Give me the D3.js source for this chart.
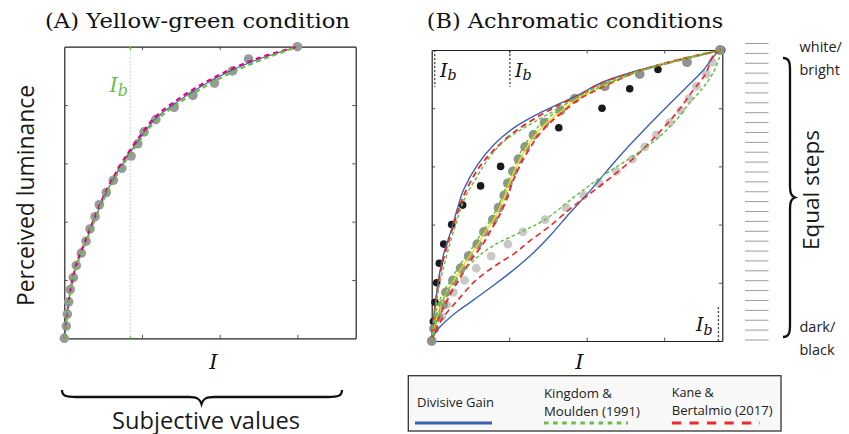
<!DOCTYPE html>
<html>
<head>
<meta charset="utf-8">
<script src="https://cdn.jsdelivr.net/npm/d3@7"></script>
<style>
  body { margin: 0; background: #fff; }
  svg { display: block; }
</style>
</head>
<body>
<svg id="fig" width="849" height="434"></svg>
<script>
// ---------- shared axis settings ----------
const xTicks = [1, 2, 3];
const yTicks = [0.2, 0.4, 0.6, 0.8];

// ---------- (A) yellow-green condition ----------
const steps25 = [0, .042, .083, .125, .167, .208, .25, .292, .333, .375, .417, .458, .5,
                 .542, .583, .625, .667, .708, .75, .792, .833, .875, .917, .958, 1];
const ygIntensity = [0, 0.026, 0.039, 0.057, 0.077, 0.116, 0.155, 0.219, 0.280, 0.331, 0.396, 0.451, 0.540,
                     0.631, 0.740, 0.860, 0.946, 1.027, 1.178, 1.414, 1.655, 1.933, 2.165, 2.371, 3.0];
const fitA_x       = [0, 0.02, 0.04, 0.08, 0.155, 0.28, 0.40, 0.54, 0.73, 0.93, 1.17, 1.45, 1.75, 2.1, 2.5, 3.0];
const fitA_gain    = [0, 0.05, 0.09, 0.165, 0.25, 0.335, 0.415, 0.5, 0.59, 0.67, 0.752, 0.81, 0.862, 0.912, 0.957, 1.0];
const fitA_kane    = [0, 0.052, 0.092, 0.168, 0.254, 0.34, 0.421, 0.506, 0.597, 0.677, 0.759, 0.817, 0.868, 0.917, 0.961, 1.0];
const fitA_kingdom = [0, 0.048, 0.088, 0.162, 0.246, 0.331, 0.411, 0.495, 0.584, 0.663, 0.744, 0.802, 0.854, 0.905, 0.951, 1.0];
const ibA = 0.85;

// ---------- (B) achromatic conditions ----------
const steps16 = [0, .067, .133, .2, .267, .333, .4, .467, .533, .6, .667, .733, .8, .867, .933, 1];
const blackIntensity = [0, 0.021, 0.043, 0.064, 0.098, 0.155, 0.258, 0.40, 0.631, 0.889, 1.202, 1.640,
                        2.198, 2.555, 2.920, 3.74];
const grayIntensity = [0, 0.030, 0.081, 0.146, 0.184, 0.274, 0.374, 0.477, 0.588, 0.674, 0.790, 0.863,
                       0.936, 0.983, 1.048, 1.121, 1.206, 1.314, 1.456, 1.662, 1.847, 2.233, 2.684, 3.294, 3.72];
const lightIntensity = [0, 0.043, 0.129, 0.193, 0.278, 0.425, 0.575, 0.768, 0.983, 1.177, 1.464, 1.735,
                        1.963, 2.160, 2.384, 2.590, 2.749, 2.899, 3.071, 3.213, 3.320, 3.415, 3.544, 3.621, 3.74];

// model fits, black background
const gainHi_x = [0, 0.017, 0.059, 0.103, 0.168, 0.253, 0.326, 0.410, 0.597, 0.812, 1.070, 1.370, 1.670, 1.885, 2.211, 2.642, 3.071, 3.741];
const gainHi_y = [0, 0.062, 0.151, 0.234, 0.313, 0.381, 0.450, 0.519, 0.608, 0.677, 0.734, 0.780, 0.818, 0.845, 0.890, 0.928, 0.958, 1.0];
const kaneHi_x = [0, 0.019, 0.055, 0.101, 0.165, 0.242, 0.332, 0.429, 0.616, 0.829, 1.086, 1.383, 1.666, 1.885, 2.207, 2.645, 3.071, 3.741];
const kaneHi_y = [0, 0.065, 0.141, 0.220, 0.296, 0.364, 0.440, 0.509, 0.598, 0.663, 0.722, 0.773, 0.814, 0.842, 0.888, 0.926, 0.957, 1.0];
const kingHi_x = [0, 0.023, 0.062, 0.107, 0.171, 0.236, 0.313, 0.390, 0.468, 0.554, 0.683, 0.854, 1.026, 1.241, 1.412, 1.602, 1.843, 2.207, 2.645, 3.071, 3.741];
const kingHi_y = [0, 0.065, 0.134, 0.203, 0.271, 0.337, 0.402, 0.467, 0.512, 0.551, 0.608, 0.666, 0.705, 0.740, 0.766, 0.794, 0.832, 0.883, 0.924, 0.955, 1.0];

// model fits, gray background
const midFit_y    = [0, 0.041, 0.082, 0.124, 0.172, 0.210, 0.251, 0.292, 0.333, 0.375, 0.416, 0.457, 0.498,
                     0.540, 0.581, 0.622, 0.663, 0.704, 0.746, 0.787, 0.828, 0.873, 0.924, 0.959, 1.0];
const kingMid_x   = [0, 0.017, 0.043, 0.081, 0.159, 0.249, 0.339, 0.442, 0.558, 0.648, 0.764, 0.841, 0.918,
                     0.970, 1.034, 1.099, 1.176, 1.279, 1.408, 1.602, 1.808, 2.169, 2.645, 3.071, 3.741];
const kaneMid_x   = [0, 0.043, 0.094, 0.171, 0.262, 0.352, 0.442, 0.545, 0.661, 0.751, 0.841, 0.918, 0.983,
                     1.034, 1.099, 1.176, 1.266, 1.369, 1.510, 1.691, 1.885, 2.207, 2.645, 3.071, 3.741];
const yellowMid_x = [0, 0.03, 0.07, 0.12, 0.2, 0.29, 0.385, 0.49, 0.6, 0.69, 0.8, 0.875, 0.945,
                     0.995, 1.06, 1.135, 1.22, 1.325, 1.465, 1.66, 1.86, 2.2, 2.645, 3.071, 3.741];

// model fits, white background
const gainLo_x = [0, 0.030, 0.081, 0.184, 0.339, 0.519, 0.751, 1.009, 1.267, 1.524, 1.782, 2.040, 2.427, 2.852, 3.290, 3.496, 3.690, 3.741];
const gainLo_y = [0, 0.021, 0.041, 0.069, 0.103, 0.137, 0.182, 0.234, 0.292, 0.361, 0.440, 0.515, 0.636, 0.756, 0.873, 0.928, 0.993, 1.0];
const kaneLo_x = [0, 0.055, 0.171, 0.339, 0.558, 0.816, 1.073, 1.267, 1.524, 1.846, 2.207, 2.594, 2.890, 3.148, 3.367, 3.535, 3.638, 3.741];
const kaneLo_y = [0, 0.038, 0.089, 0.141, 0.206, 0.258, 0.302, 0.344, 0.395, 0.467, 0.540, 0.625, 0.704, 0.780, 0.859, 0.918, 0.983, 1.0];
const kingLo_x = [0, 0.039, 0.103, 0.210, 0.382, 0.596, 0.812, 1.155, 1.456, 1.843, 2.211, 2.642, 2.903, 3.110, 3.329, 3.496, 3.625, 3.715, 3.741];
const kingLo_y = [0, 0.038, 0.106, 0.175, 0.232, 0.290, 0.330, 0.375, 0.416, 0.496, 0.568, 0.643, 0.694, 0.746, 0.818, 0.869, 0.918, 0.976, 1.0];

const ibB = [0.04, 1.01];
const ibBcorner = 3.70;

// ---------- ladder of equal steps on the right ----------
const ladderLevels = d3.range(31).map(i => i / 30);

// ---------- legend ----------
const legendLabels = [["Divisive Gain"], ["Kingdom &", "Moulden (1991)"], ["Kane &", "Bertalmio (2017)"]];

// ---------- styles ----------
const C = {
  blue: "#3b62b4", green: "#69be45", red: "#ec2a2c", magenta: "#e4007f", yellow: "#f1e200",
  dotA: "#9a9a9a", black: "#1b1b1b", mid: "#929292", light: "#c9c9c9", frame: "#222"
};
const SANS = "'Open Sans', 'DejaVu Sans', sans-serif";
const SERIF = "'DejaVu Serif', 'Liberation Serif', serif";

const svg = d3.select("#fig");

const xA = d3.scaleLinear([0, 3.75], [64.3, 355.7]);
const yA = d3.scaleLinear([0, 1], [338.3, 46.7]);
const xB = d3.scaleLinear([0, 3.75], [431.7, 722.3]);
const yB = d3.scaleLinear([0, 1], [341, 50]);

function frame(x, y) {
  const g = svg.append("g");
  const [x0, x1] = x.range(), [y0, y1] = y.range();
  const axes = [
    [d3.axisBottom(x).tickValues(xTicks), `translate(0,${y0})`],
    [d3.axisTop(x).tickValues(xTicks), `translate(0,${y1})`],
    [d3.axisLeft(y).tickValues(yTicks), `translate(${x0},0)`],
    [d3.axisRight(y).tickValues(yTicks), `translate(${x1},0)`]
  ];
  axes.forEach(([ax, tr]) => {
    const a = g.append("g").attr("transform", tr)
      .call(ax.tickSize(-3.5).tickSizeOuter(0).tickFormat(""));
    a.select(".domain").attr("stroke", C.frame).attr("stroke-width", 1.2);
    a.selectAll(".tick line").attr("stroke", "#444").attr("stroke-width", 0.9);
  });
  return g;
}

function drawLine(g, x, y, xs, ys, color, width, dash) {
  const line = d3.line().x(d => x(d[0])).y(d => y(d[1])).curve(d3.curveCatmullRom.alpha(0.5));
  g.append("path")
    .attr("d", line(d3.zip(xs, ys)))
    .attr("fill", "none")
    .attr("stroke", color)
    .attr("stroke-width", width)
    .attr("stroke-dasharray", dash || null)
    .attr("stroke-linecap", "butt");
}

function drawDots(g, x, y, xs, ys, color, r) {
  g.selectAll(null).data(d3.zip(xs, ys)).join("circle")
    .attr("cx", d => x(d[0])).attr("cy", d => y(d[1]))
    .attr("r", r).attr("fill", color);
}

function ib(g, x, y, color, size) {
  const t = g.append("text").attr("x", x).attr("y", y)
    .attr("font-family", SERIF).attr("font-style", "italic").attr("fill", color)
    .attr("font-size", size);
  t.append("tspan").text("I");
  t.append("tspan").attr("font-size", size * 0.75).attr("dy", size * 0.2).text("b");
}

// ---------- panel A ----------
frame(xA, yA);
const gA = svg.append("g");
gA.append("line")
  .attr("x1", xA(ibA)).attr("x2", xA(ibA)).attr("y1", yA(1)).attr("y2", yA(0))
  .attr("stroke", "#c4c4c4").attr("stroke-width", 1).attr("stroke-dasharray", "1.5,2");
[[yA(1), yA(1) + 3], [yA(0) - 2, yA(0)]].forEach(([a, b]) =>
  gA.append("line").attr("x1", xA(ibA)).attr("x2", xA(ibA)).attr("y1", a).attr("y2", b)
    .attr("stroke", C.green).attr("stroke-width", 1.5));
drawDots(gA, xA, yA, ygIntensity, steps25, C.dotA, 4.8);
drawLine(gA, xA, yA, fitA_x, fitA_gain, C.blue, 1.1);
drawLine(gA, xA, yA, fitA_x, fitA_kane, C.magenta, 2.2, "5,4");
drawLine(gA, xA, yA, fitA_x, fitA_kingdom, C.green, 2.2, "5,3.5");
ib(gA, 109.5, 91.5, C.green, 21);

// ---------- panel B ----------
frame(xB, yB);
const gB = svg.append("g");
drawDots(gB, xB, yB, lightIntensity, steps25, C.light, 4.4);
drawDots(gB, xB, yB, blackIntensity, steps16, C.black, 3.8);
drawDots(gB, xB, yB, grayIntensity, steps25, C.mid, 4.9);

drawLine(gB, xB, yB, gainHi_x, gainHi_y, C.blue, 1.4);
drawLine(gB, xB, yB, gainLo_x, gainLo_y, C.blue, 1.4);
drawLine(gB, xB, yB, yellowMid_x, midFit_y, C.yellow, 1.3);
drawLine(gB, xB, yB, kaneHi_x, kaneHi_y, C.red, 1.9, "6,4");
drawLine(gB, xB, yB, kaneMid_x, midFit_y, C.red, 1.9, "6,4");
drawLine(gB, xB, yB, kaneLo_x, kaneLo_y, C.red, 1.6, "6,4");
drawLine(gB, xB, yB, kingHi_x, kingHi_y, C.green, 1.5, "3.5,2.5");
drawLine(gB, xB, yB, kingMid_x, midFit_y, C.green, 1.5, "3.5,2.5");
drawLine(gB, xB, yB, kingLo_x, kingLo_y, C.green, 1.5, "3.5,2.5");

// background-intensity markers
ibB.forEach(v => {
  gB.append("line").attr("x1", xB(v)).attr("x2", xB(v)).attr("y1", yB(1)).attr("y2", yB(1) + 37)
    .attr("stroke", "#111").attr("stroke-width", 1).attr("stroke-dasharray", "2.2,1.8");
});
gB.append("line").attr("x1", xB(ibBcorner)).attr("x2", xB(ibBcorner)).attr("y1", yB(0) - 34).attr("y2", yB(0))
  .attr("stroke", "#555").attr("stroke-width", 1.4).attr("stroke-dasharray", "2.2,1.8");
ib(gB, 440, 76.5, "#111", 19);
ib(gB, 515, 76.5, "#111", 19);
ib(gB, 696, 331, "#111", 19);

// axis symbols
[213.5, 579.5].forEach(cx =>
  svg.append("text").attr("x", cx).attr("y", 369).attr("text-anchor", "middle")
    .attr("font-family", SERIF).attr("font-style", "italic").attr("font-size", 21)
    .attr("fill", "#111").text("I"));

// titles
svg.append("text").attr("x", 45).attr("y", 28.3).attr("font-family", SERIF).attr("font-size", 21)
  .attr("textLength", 305).attr("lengthAdjust", "spacingAndGlyphs").attr("fill", "#111")
  .text("(A) Yellow-green condition");
svg.append("text").attr("x", 426.7).attr("y", 28.3).attr("font-family", SERIF).attr("font-size", 21)
  .attr("textLength", 296.6).attr("lengthAdjust", "spacingAndGlyphs").attr("fill", "#111")
  .text("(B) Achromatic conditions");

// y label
svg.append("text").attr("transform", "translate(33.5,195.5) rotate(-90)")
  .attr("text-anchor", "middle").attr("font-family", SANS).attr("font-size", 24)
  .attr("textLength", 221).attr("lengthAdjust", "spacingAndGlyphs").attr("fill", "#1a1a1a")
  .text("Perceived luminance");

// brace under A and its caption
svg.append("path")
  .attr("d", "M62,390 C62,396 66,397 76,397 L189,397 C197,397 200,399 201.5,404 C203,399 206,397 214,397 L328,397 C338,397 342,396 342,390")
  .attr("fill", "none").attr("stroke", "#111").attr("stroke-width", 2.3);
svg.append("text").attr("x", 206).attr("y", 428.5).attr("text-anchor", "middle")
  .attr("font-family", SANS).attr("font-size", 23)
  .attr("textLength", 188).attr("lengthAdjust", "spacingAndGlyphs").attr("fill", "#1a1a1a")
  .text("Subjective values");

// ladder of equal steps
const yLadder = d3.scaleLinear([0, 1], [340, 43.5]);
svg.append("g").selectAll("line").data(ladderLevels).join("line")
  .attr("x1", 745).attr("x2", 768.5)
  .attr("y1", d => yLadder(d)).attr("y2", d => yLadder(d))
  .attr("stroke", "#9c9c9c").attr("stroke-width", 1);

// vertical brace on the right
svg.append("path")
  .attr("d", "M783,58 C789,58 790,62 790,70 L790,186 C790,193 791,196 795,197.5 C791,199 790,202 790,209 L790,325 C790,333 789,337 783,337")
  .attr("fill", "none").attr("stroke", "#111").attr("stroke-width", 2.3);
svg.append("text").attr("transform", "translate(818.5,190) rotate(-90)")
  .attr("text-anchor", "middle").attr("font-family", SANS).attr("font-size", 22)
  .attr("textLength", 120).attr("lengthAdjust", "spacingAndGlyphs").attr("fill", "#1a1a1a")
  .text("Equal steps");

[["white/", 51.5], ["bright", 74.5], ["dark/", 332], ["black", 355]].forEach(([t, y]) =>
  svg.append("text").attr("x", 799.5).attr("y", y).attr("font-family", SANS)
    .attr("font-size", 14.5).attr("fill", "#222").text(t));

// legend
const lg = svg.append("g");
lg.append("rect").attr("x", 408.3).attr("y", 375.7).attr("width", 372.7).attr("height", 55.3)
  .attr("fill", "#f7f8f7").attr("stroke", "#333").attr("stroke-width", 1.3);
const legendStyle = [
  { x: 417, lines: [[406.5, 77]], color: C.blue, dash: null, lx: [415, 492] },
  { x: 544, lines: [[398.3, 68], [416, 96]], color: C.green, dash: "4.5,4.6", lx: [544, 628] },
  { x: 671.7, lines: [[396.7, 42], [415, 101]], color: C.red, dash: "9.2,8.3", lx: [672, 760] }
];
legendLabels.forEach((rows, i) => {
  const s = legendStyle[i];
  rows.forEach((t, j) => {
    lg.append("text").attr("x", s.x).attr("y", s.lines[j][0]).attr("font-family", SANS)
      .attr("font-size", 13.5).attr("fill", "#222")
      .attr("textLength", s.lines[j][1]).attr("lengthAdjust", "spacingAndGlyphs").text(t);
  });
  lg.append("line").attr("x1", s.lx[0]).attr("x2", s.lx[1]).attr("y1", 423).attr("y2", 423)
    .attr("stroke", s.color).attr("stroke-width", 2.8).attr("stroke-dasharray", s.dash);
});
</script>
</body>
</html>
